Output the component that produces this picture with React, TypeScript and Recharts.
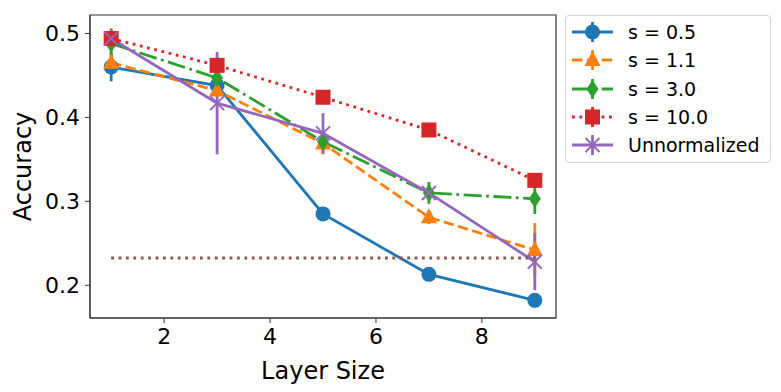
import { ComposedChart, Line, XAxis, YAxis, ErrorBar, ReferenceArea } from "recharts";

const layers = [1, 3, 5, 7, 9];

const acc05 = [0.46, 0.438, 0.285, 0.213, 0.182];
const err05 = [0.017, 0.006, 0.004, 0.004, 0.004];
const acc11 = [0.465, 0.432, 0.369, 0.281, 0.242];
const err11 = [0.006, 0.005, 0.013, 0.008, 0.032];
const acc30 = [0.488, 0.447, 0.371, 0.31, 0.303];
const err30 = [0.018, 0.008, 0.01, 0.013, 0.018];
const acc100 = [0.494, 0.462, 0.424, 0.385, 0.325];
const err100 = [0.004, 0.004, 0.004, 0.004, 0.004];
const accRaw = [0.494, 0.417, 0.381, 0.31, 0.228];
const errRaw = [0.01, 0.061, 0.024, 0.005, 0.034];

const baselineX = [1, 9];
const baselineY = 0.2325;

const xTicks = [2, 4, 6, 8];
const yTicks = [0.2, 0.3, 0.4, 0.5];
const xDomain = [0.6, 9.4];
const yDomain = [0.161, 0.522];

const rows = layers.map((x, i) => ({
  x,
  s05: acc05[i], s05e: err05[i],
  s11: acc11[i], s11e: err11[i],
  s30: acc30[i], s30e: err30[i],
  s100: acc100[i], s100e: err100[i],
  raw: accRaw[i], rawe: errRaw[i],
}));
const baseline = baselineX.map((x) => ({ x, chance: baselineY }));

const LW = 2.8;
const series = [
  { key: "s05", name: "s = 0.5", color: "#1f77b4", dash: undefined, shape: "circle" },
  { key: "s11", name: "s = 1.1", color: "#ff7f0e", dash: "10.4 4.5", shape: "triangle" },
  { key: "s30", name: "s = 3.0", color: "#2ca02c", dash: "18 4.5 2.8 4.5", shape: "diamond" },
  { key: "s100", name: "s = 10.0", color: "#d62728", dash: "2.8 4.6", shape: "square" },
  { key: "raw", name: "Unnormalized", color: "#9467bd", dash: undefined, shape: "x" },
];

const font = "'DejaVu Sans', sans-serif";

function Marker({ cx, cy, shape, color }: { cx?: number; cy?: number; shape: string; color: string }) {
  if (cx == null || cy == null) return null;
  if (shape === "circle") return <circle cx={cx} cy={cy} r={7.5} fill={color} />;
  if (shape === "triangle")
    return <polygon points={`${cx},${cy - 9} ${cx + 8},${cy + 6} ${cx - 8},${cy + 6}`} fill={color} />;
  if (shape === "diamond")
    return <polygon points={`${cx},${cy - 9} ${cx + 6},${cy} ${cx},${cy + 9} ${cx - 6},${cy}`} fill={color} />;
  if (shape === "square") return <rect x={cx - 7.5} y={cy - 7.5} width={15} height={15} fill={color} />;
  return (
    <g stroke={color} strokeWidth={2}>
      <line x1={cx - 7} y1={cy - 7} x2={cx + 7} y2={cy + 7} />
      <line x1={cx - 7} y1={cy + 7} x2={cx + 7} y2={cy - 7} />
    </g>
  );
}

function LegendBox() {
  return (
    <div style={{
      position: "absolute", left: 565, top: 15, width: 204, height: 146,
      border: "1px solid #d4d4d4", borderRadius: 4, background: "#fff", fontFamily: font,
    }}>
      {series.map((s, i) => (
        <div key={s.key} style={{ position: "absolute", left: 0, top: 2 + i * 28.3, height: 28, display: "flex", alignItems: "center", whiteSpace: "nowrap" }}>
          <svg width={60} height={28}>
            <line x1={6} y1={14} x2={47} y2={14} stroke={s.color} strokeWidth={LW} strokeDasharray={s.dash} />
            <line x1={26.5} y1={4} x2={26.5} y2={24} stroke={s.color} strokeWidth={LW} />
            <Marker cx={26.5} cy={14} shape={s.shape} color={s.color} />
          </svg>
          <span style={{ fontSize: 19, marginLeft: 2, color: "#000" }}>{s.name}</span>
        </div>
      ))}
    </div>
  );
}

export default function App() {
  return (
    <div style={{ position: "absolute", left: 0, top: 0, width: 781, height: 392, background: "#fff" }}>
      <ComposedChart width={781} height={392} data={rows} margin={{ top: 15, right: 225, left: 0, bottom: 0 }}>
        <XAxis
          dataKey="x" type="number" domain={xDomain} ticks={xTicks} allowDataOverflow
          tick={{ fill: "#000", fontSize: 22, fontFamily: font }} tickSize={5} tickMargin={5}
          stroke="#333" height={74}
          label={{ value: "Layer Size", position: "insideBottom", offset: 13, fill: "#000", fontSize: 24, fontFamily: font }}
        />
        <YAxis
          type="number" domain={yDomain} ticks={yTicks} allowDataOverflow
          tick={{ fill: "#000", fontSize: 22, fontFamily: font }} tickSize={5} tickMargin={5}
          tickFormatter={(v: number) => v.toFixed(1)} stroke="#333" width={90}
          label={{ value: "Accuracy", angle: -90, position: "insideLeft", offset: 22, fill: "#000", fontSize: 24, fontFamily: font, style: { textAnchor: "middle" } }}
        />
        <ReferenceArea x1={xDomain[0]} x2={xDomain[1]} y1={yDomain[0]} y2={yDomain[1]} fill="none" fillOpacity={0} stroke="#333" strokeWidth={1.2} ifOverflow="visible" />
        {series.map((s) => (
          <Line
            key={s.key} dataKey={s.key} name={s.name} stroke={s.color} strokeWidth={LW}
            strokeDasharray={s.dash} isAnimationActive={false}
            dot={(p: any) => <Marker key={`${s.key}-${p.index}`} cx={p.cx} cy={p.cy} shape={s.shape} color={s.color} />}
            activeDot={false}
          >
            <ErrorBar dataKey={`${s.key}e`} width={0} stroke={s.color} strokeWidth={LW} direction="y" />
          </Line>
        ))}
        <Line data={baseline} dataKey="chance" stroke="#8c564b" strokeWidth={LW} strokeDasharray="2.8 4.6" dot={false} activeDot={false} isAnimationActive={false} />
      </ComposedChart>
      <LegendBox />
    </div>
  );
}
